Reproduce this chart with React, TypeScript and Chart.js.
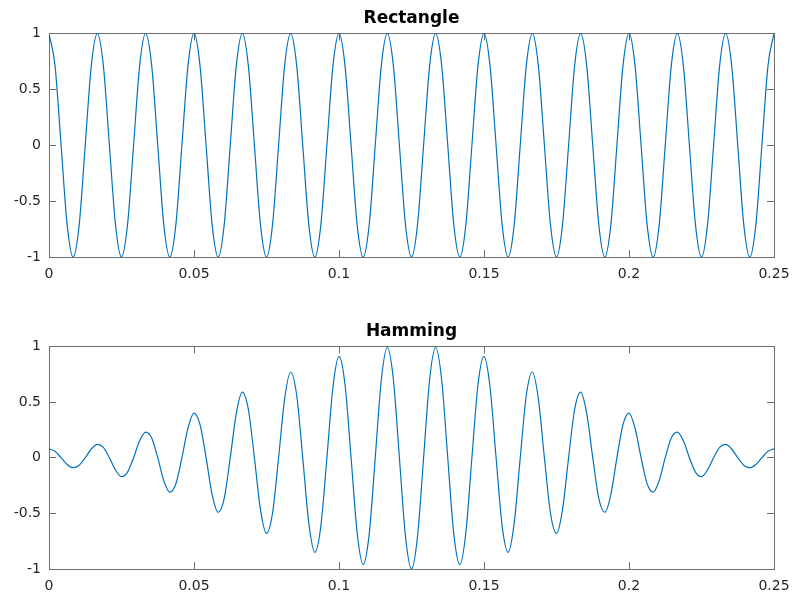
import { useEffect, useRef } from 'react';
import { Chart, registerables } from 'chart.js';

Chart.register(...registerables);

// Sample times (s): eighth-period steps of the 60 Hz tone
const TIME = [
  0, 0.00208, 0.00417, 0.00625, 0.00833, 0.01042, 0.0125, 0.01458,
  0.01667, 0.01875, 0.02083, 0.02292, 0.025, 0.02708, 0.02917, 0.03125,
  0.03333, 0.03542, 0.0375, 0.03958, 0.04167, 0.04375, 0.04583, 0.04792,
  0.05, 0.05208, 0.05417, 0.05625, 0.05833, 0.06042, 0.0625, 0.06458,
  0.06667, 0.06875, 0.07083, 0.07292, 0.075, 0.07708, 0.07917, 0.08125,
  0.08333, 0.08542, 0.0875, 0.08958, 0.09167, 0.09375, 0.09583, 0.09792,
  0.1, 0.10208, 0.10417, 0.10625, 0.10833, 0.11042, 0.1125, 0.11458,
  0.11667, 0.11875, 0.12083, 0.12292, 0.125, 0.12708, 0.12917, 0.13125,
  0.13333, 0.13542, 0.1375, 0.13958, 0.14167, 0.14375, 0.14583, 0.14792,
  0.15, 0.15208, 0.15417, 0.15625, 0.15833, 0.16042, 0.1625, 0.16458,
  0.16667, 0.16875, 0.17083, 0.17292, 0.175, 0.17708, 0.17917, 0.18125,
  0.18333, 0.18542, 0.1875, 0.18958, 0.19167, 0.19375, 0.19583, 0.19792,
  0.2, 0.20208, 0.20417, 0.20625, 0.20833, 0.21042, 0.2125, 0.21458,
  0.21667, 0.21875, 0.22083, 0.22292, 0.225, 0.22708, 0.22917, 0.23125,
  0.23333, 0.23542, 0.2375, 0.23958, 0.24167, 0.24375, 0.24583, 0.24792,
  0.25,
];

// Tone under a rectangular window (one period per row)
const RECTANGLE = [
  1, 0.71, 0, -0.71, -1, -0.71, 0, 0.71,
  1, 0.71, 0, -0.71, -1, -0.71, 0, 0.71,
  1, 0.71, 0, -0.71, -1, -0.71, 0, 0.71,
  1, 0.71, 0, -0.71, -1, -0.71, 0, 0.71,
  1, 0.71, 0, -0.71, -1, -0.71, 0, 0.71,
  1, 0.71, 0, -0.71, -1, -0.71, 0, 0.71,
  1, 0.71, 0, -0.71, -1, -0.71, 0, 0.71,
  1, 0.71, 0, -0.71, -1, -0.71, 0, 0.71,
  1, 0.71, 0, -0.71, -1, -0.71, 0, 0.71,
  1, 0.71, 0, -0.71, -1, -0.71, 0, 0.71,
  1, 0.71, 0, -0.71, -1, -0.71, 0, 0.71,
  1, 0.71, 0, -0.71, -1, -0.71, 0, 0.71,
  1, 0.71, 0, -0.71, -1, -0.71, 0, 0.71,
  1, 0.71, 0, -0.71, -1, -0.71, 0, 0.71,
  1, 0.71, 0, -0.71, -1, -0.71, 0, 0.71,
  1,
];

// Same tone under a Hamming window (one period per row)
const HAMMING = [
  0.08, 0.057, 0, -0.061, -0.09, -0.068, 0, 0.078,
  0.12, 0.092, 0, -0.109, -0.17, -0.129, 0, 0.152,
  0.23, 0.177, 0, -0.205, -0.31, -0.234, 0, 0.265,
  0.4, 0.298, 0, -0.331, -0.49, -0.365, 0, 0.399,
  0.59, 0.433, 0, -0.466, -0.68, -0.498, 0, 0.529,
  0.77, 0.559, 0, -0.586, -0.85, -0.612, 0, 0.635,
  0.91, 0.655, 0, -0.672, -0.96, -0.685, 0, 0.696,
  0.99, 0.703, 0, -0.707, -1.0, -0.707, 0, 0.703,
  0.99, 0.696, 0, -0.685, -0.96, -0.672, 0, 0.655,
  0.91, 0.635, 0, -0.612, -0.85, -0.586, 0, 0.559,
  0.77, 0.529, 0, -0.498, -0.68, -0.466, 0, 0.433,
  0.59, 0.399, 0, -0.365, -0.49, -0.331, 0, 0.298,
  0.4, 0.265, 0, -0.234, -0.31, -0.205, 0, 0.177,
  0.23, 0.152, 0, -0.129, -0.17, -0.109, 0, 0.092,
  0.12, 0.078, 0, -0.068, -0.09, -0.061, 0, 0.057,
  0.08,
];

const X_TICKS = [0, 0.05, 0.1, 0.15, 0.2, 0.25];
const X_TICK_LABELS = ['0', '0.05', '0.1', '0.15', '0.2', '0.25'];
const Y_TICKS = [-1, -0.5, 0, 0.5, 1];
const Y_TICK_LABELS = ['-1', '-0.5', '0', '0.5', '1'];

const AXIS_COLOR = '#6e6e6e';
const TEXT_COLOR = '#262626';
const LINE_COLOR = '#0072BD';
const FONT_FAMILY = 'DejaVu Sans';

const labelFor = (values: number[], labels: string[]) => (v: number | string) => {
  const i = values.findIndex((t) => Math.abs(t - Number(v)) < 1e-9);
  return i >= 0 ? labels[i] : '';
};

const setTicks = (values: number[]) => (scale: any) => {
  scale.ticks = values.map((value) => ({ value }));
};

// inward tick marks, no grid lines across the plot
const gridOpts = {
  drawOnChartArea: false,
  drawTicks: true,
  tickLength: -7,
  color: AXIS_COLOR,
  lineWidth: 1,
};

const borderOpts = { display: true, color: AXIS_COLOR, width: 1 };

function buildConfig(title: string, values: number[], xAxisHeight: number): any {
  return {
    type: 'line',
    data: {
      datasets: [
        {
          data: TIME.map((t, i) => ({ x: t, y: values[i] })),
          borderColor: LINE_COLOR,
          borderWidth: 1.2,
          pointRadius: 0,
          fill: false,
          cubicInterpolationMode: 'monotone',
        },
      ],
    },
    options: {
      responsive: false,
      animation: false,
      devicePixelRatio: 1,
      layout: { padding: { top: 0, left: 0, right: 19, bottom: 0 } },
      plugins: {
        legend: { display: false },
        tooltip: { enabled: false },
        title: {
          display: true,
          text: title,
          fullSize: false,
          align: 'center',
          color: '#000',
          font: { family: FONT_FAMILY, size: 17, weight: 'bold', lineHeight: 1.2 },
          padding: { top: 8, bottom: 5 },
        },
      },
      scales: {
        x: {
          type: 'linear',
          position: 'bottom',
          min: 0,
          max: 0.25,
          afterBuildTicks: setTicks(X_TICKS),
          afterFit: (s: any) => {
            s.height = xAxisHeight;
            s.paddingLeft = 0;
            s.paddingRight = 0;
          },
          grid: gridOpts,
          border: borderOpts,
          ticks: {
            autoSkip: false,
            maxRotation: 0,
            padding: 16,
            color: TEXT_COLOR,
            font: { family: FONT_FAMILY, size: 14 },
            callback: labelFor(X_TICKS, X_TICK_LABELS),
          },
        },
        xTop: {
          type: 'linear',
          position: 'top',
          min: 0,
          max: 0.25,
          afterBuildTicks: setTicks(X_TICKS),
          afterFit: (s: any) => {
            s.height = 0;
            s.paddingLeft = 0;
            s.paddingRight = 0;
          },
          grid: gridOpts,
          border: borderOpts,
          ticks: { display: false },
        },
        y: {
          type: 'linear',
          position: 'left',
          min: -1,
          max: 1,
          afterBuildTicks: setTicks(Y_TICKS),
          afterFit: (s: any) => {
            s.width = 49;
          },
          grid: gridOpts,
          border: borderOpts,
          ticks: {
            autoSkip: false,
            padding: 15,
            color: TEXT_COLOR,
            font: { family: FONT_FAMILY, size: 14 },
            callback: labelFor(Y_TICKS, Y_TICK_LABELS),
          },
        },
        yRight: {
          type: 'linear',
          position: 'right',
          min: -1,
          max: 1,
          afterBuildTicks: setTicks(Y_TICKS),
          afterFit: (s: any) => {
            s.width = 0;
          },
          grid: gridOpts,
          border: borderOpts,
          ticks: { display: false },
        },
      },
    },
  };
}

function Panel(props: { title: string; values: number[]; top: number; height: number; xAxisHeight: number }) {
  const ref = useRef<HTMLCanvasElement | null>(null);
  useEffect(() => {
    if (!ref.current) return;
    const chart = new Chart(ref.current, buildConfig(props.title, props.values, props.xAxisHeight));
    return () => chart.destroy();
  }, [props.title, props.values, props.xAxisHeight]);
  return (
    <canvas
      ref={ref}
      width={793}
      height={props.height}
      style={{ position: 'absolute', left: 0, top: props.top, width: 793, height: props.height, display: 'block' }}
    />
  );
}

export default function App() {
  return (
    <div
      style={{
        position: 'absolute',
        left: 0,
        top: 0,
        width: 793,
        height: 593,
        overflow: 'hidden',
        background: '#fff',
      }}
    >
      <Panel title="Rectangle" values={RECTANGLE} top={0} height={296} xAxisHeight={39} />
      <Panel title="Hamming" values={HAMMING} top={313} height={280} xAxisHeight={24} />
    </div>
  );
}
